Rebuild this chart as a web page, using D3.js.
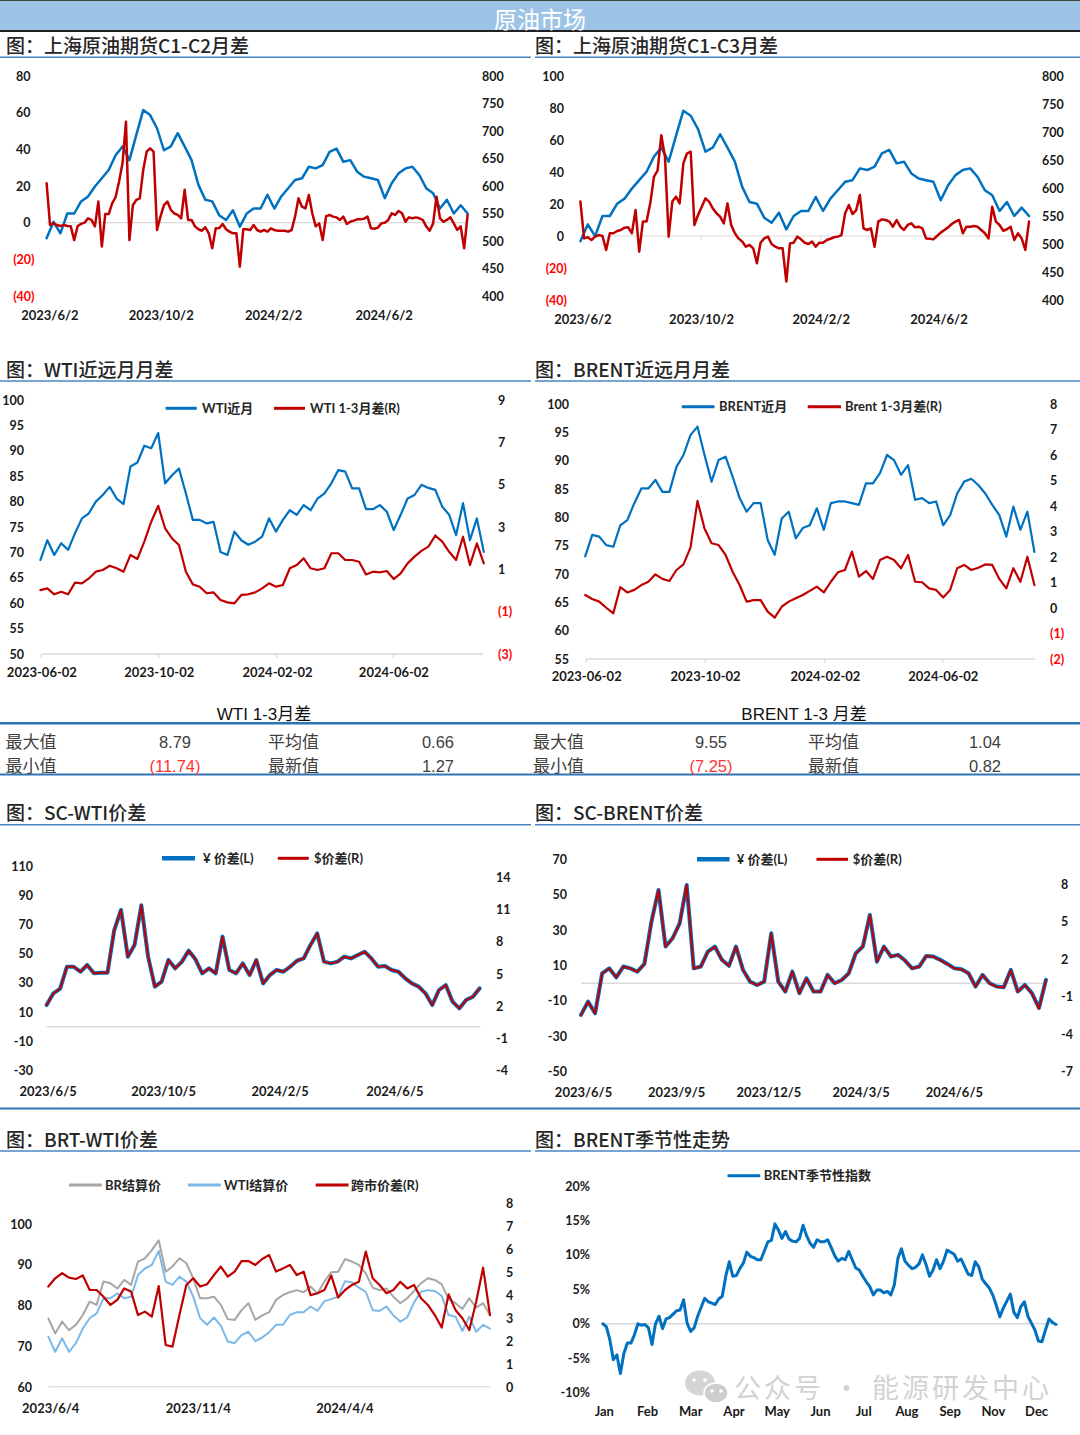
<!DOCTYPE html>
<html><head><meta charset="utf-8">
<script src="https://cdn.jsdelivr.net/npm/d3@7"></script>
<style>
body{margin:0;background:#fff;}
svg{display:block;}
</style></head><body>
<svg id="c" width="1080" height="1435"></svg>
<script>
// ---------------- DATA ----------------
// SC main contract price (yuan/bbl), used in C1-C2 and C1-C3 charts (right axis)
const scPrice = [505,535,514,550,550,572,581,599,614,629,656,672,647,693,738,729,705,665,672,696,672,647,602,575,572,547,538,556,526,550,559,559,584,559,581,596,611,614,635,632,638,662,668,644,647,626,617,614,611,578,605,623,632,635,620,596,587,559,575,550,565,550];
// SC C1-C2 spread
const scC1C2 = [21.5,-1.3,-0.4,-1.3,-1.8,-1.3,-1.8,-2,-9.5,-1.8,
 -0.7,0,2.4,1.5,-2,11.5,-13,4.7,4.7,10.5,
 14,22.4,32.4,55,-9.5,9.5,12.4,13.3,28.7,38.7,
 40.5,38.7,-4,3.3,9.6,11.5,7,5,4.2,2.4,
 18,1.5,1.5,-2,-3.6,-4.4,-2.5,-5.8,-14,-3.1,
 -3.1,-0.7,-3.6,-4.9,-5.8,-5.8,-24,-3.6,-3.6,-4,
 -1.3,-4,-4.9,-4,-4.9,-3.1,-4,-4.4,-4.4,-4.4,
 -4.9,-4,3.3,13.3,8.7,7.8,15.1,5,-2,-0.4,
 -9.5,3.6,4.2,3.3,2.9,1.5,3.3,-0.7,0.5,1.1,
 1.8,1.8,2.2,3.3,-3.1,-3.3,-2.7,-0.4,0,1.5,
 5.1,4.2,6.4,5.1,0.5,2.9,2.4,2.9,2.4,1.5,
 -2,-4.4,-0.4,14.2,2.4,0.5,1.5,2.9,-0.4,-4,
 -2,-14,4.2];
// SC C1-C3 spread
const scC1C3 = [21.5,-1.5,-0.8,-2.5,-0.4,0.6,0,-8.7,1.7,1.7,
 3.1,3.75,5.2,5.4,1.7,16.2,-9.8,9,9,20.4,
 37,41,63,49.6,-0.4,21.5,24.6,20.4,45.4,51.7,
 52.7,6.9,13.1,18.3,23.5,21.5,17.3,14.2,12.1,7.9,
 20.4,6.9,1.7,-1.5,-3.5,-6.7,-5.6,-7.7,-17,-4.2,
 -1.5,-0.4,-5,-6.7,-7.7,-7.7,-28.5,-4.6,-4.2,-0.4,
 -2.1,-4.2,-5,-3.5,-6.7,-4.2,-4.2,-2.5,-1.7,-0.8,
 -0.4,0.6,14.2,19.4,13.7,16.2,25.6,4.8,3.75,4.8,
 -6.7,9,10.4,10,9,5.8,10,5.8,3.75,6.9,
 7.9,5.4,5.8,4.8,-1.5,-1.7,-2.1,0,2.1,3.75,
 5.4,7.5,9,10,1.7,5.8,5.8,6.25,5.8,3.75,
 1.7,-1.5,18.3,9,6.9,3.3,4.2,5.8,-2.5,1.7,
 -1.5,-8.7,9];
// WTI front month and WTI 1-3 spread
const wtiFront = [68.5,72.4,69.5,71.8,70.5,73.8,76.7,77.7,80,81.3,82.9,80.6,79.5,86.9,87.7,91,90.5,93.5,83.6,85.2,86.5,81.6,76.4,76.4,75.7,76,70.1,69.5,74.1,72.4,71.5,72.1,73.1,76.7,74.1,76.4,78.3,77.4,79.3,78.3,80.6,81.6,83.6,86.2,85.9,82.6,82.6,78.5,78.5,79.3,78,74.4,77.4,80.6,81.3,83.3,82.7,82.3,79,77.4,73.4,79.7,72.4,76.7,70.1];
const wtiSpread = [0.02,0.1,-0.18,-0.06,-0.18,0.37,0.34,0.57,0.89,0.97,1.17,1.05,0.89,1.68,1.49,2.31,3.25,4.0,2.94,2.46,2.15,0.89,0.29,0.18,-0.13,-0.09,-0.45,-0.56,-0.61,-0.21,-0.18,-0.09,0.1,0.34,0.18,0.26,1.05,1.2,1.52,1.05,0.97,1.05,1.76,1.76,1.44,1.44,1.36,0.76,0.89,0.86,0.92,0.54,0.81,1.28,1.6,1.87,2.07,2.6,2.31,1.83,1.44,2.54,1.2,2.23,1.28];
// Brent front month and Brent 1-3 spread
const brentFront = [73.1,76.9,76.6,75.1,74.8,78.6,79.5,82.5,85.1,85.1,86.6,84.5,84.5,88.9,91,94.5,96,91,86.3,90.1,90.7,87.2,83.4,81,82.5,82.5,76,73.4,79.8,81,76.3,78.1,78.6,81.6,77.8,82.5,82.8,82.8,82.5,82.2,86,86,87.8,91,90.1,87.5,89.2,83.1,83.4,82.5,82.8,78.6,80.4,84.2,86.3,86.8,85.7,84.2,82.2,80.4,76.6,81.9,77.8,81,73.9];
const brentSpread = [0.51,0.35,0.25,0.01,-0.21,0.82,0.61,0.71,0.9,1.03,1.32,1.14,1.06,1.49,1.71,2.37,4.2,3.12,2.54,2.47,2.08,1.42,0.9,0.25,0.31,0.31,-0.14,-0.38,0.05,0.25,0.38,0.51,0.67,0.84,0.61,1.03,1.4,1.49,2.21,1.23,1.45,1.14,1.88,2.01,1.88,1.56,2.08,1.03,1.01,0.77,0.71,0.41,0.71,1.56,1.69,1.49,1.58,1.71,1.69,1.14,0.77,1.56,1.03,2.01,0.9];
// Table statistics
const statNames = [["最大值","平均值"],["最小值","最新值"]];
const wtiStats = [[8.79,0.66],[-11.74,1.27]];
const brentStats = [[9.55,1.04],[-7.25,0.82]];
// SC-WTI spread (CNY left, USD right)
const scWtiCny = [14.9,22.9,26.1,41.1,41.1,37.7,42.3,36.6,37,37,66.2,79.9,48,56,83.1,48,27.5,30.9,45.7,40,44.6,52.1,46.2,36.6,40,36.6,61.7,38.9,36.6,43.4,35.4,45.7,29.7,35.4,38.9,37.7,41.1,45.2,46.8,56,63.9,44.6,43.4,44.6,48,46.8,49.1,51.4,46.8,41.1,41.6,38.9,37.7,33.2,29.7,27.5,22.9,14.9,25.2,28.6,17.2,12.6,18.3,20.6,26.3];
const scWtiUsd = [2.11,3.19,3.63,5.68,5.68,5.21,5.83,5.06,5.12,5.12,9.09,10.96,6.61,7.7,11.39,6.61,3.81,4.28,6.3,5.52,6.14,7.17,6.36,5.06,5.52,5.06,8.47,5.37,5.06,5.99,4.9,6.3,4.12,4.9,5.37,5.21,5.68,6.24,6.45,7.7,8.78,6.14,5.99,6.14,6.61,6.45,6.76,7.07,6.45,5.68,5.74,5.37,5.21,4.59,4.12,3.81,3.19,2.11,3.5,3.97,2.42,1.8,2.57,2.88,3.66];
// SC-Brent spread
const scBrentCny = [-17.9,-10.4,-17,5.6,8.4,3.3,9.4,8.4,6.5,10.9,34.8,52.7,20.7,25.4,33.8,55.5,8.4,9.4,17.8,20.7,13.2,9.8,20.7,7.5,0.9,-1,0.9,28.2,0.9,-4.7,6.6,-5.6,2.8,-4.7,-4.7,4.7,0,1.8,5.6,16.9,20.7,38.5,12.1,20.7,15.1,16,12.8,8.4,9.4,15.4,15.1,13.2,10.9,8.4,7.9,5.6,-1.9,4.7,0,-1.9,-2.3,7.5,-4.7,-1,-5.6,-14,1.9];
const scBrentUsd = [-2.48,-1.41,-2.35,0.85,1.25,0.53,1.39,1.25,0.99,1.6,4.99,7.52,2.99,3.65,4.85,7.92,1.25,1.39,2.59,2.99,1.92,1.44,2.99,1.12,0.19,-0.08,0.19,4.05,0.19,-0.61,0.99,-0.75,0.45,-0.61,-0.61,0.72,0.05,0.32,0.85,2.45,2.99,5.52,1.79,2.99,2.19,2.32,1.87,1.25,1.39,2.24,2.19,1.92,1.6,1.25,1.17,0.85,-0.21,0.72,0.05,-0.21,-0.27,1.12,-0.61,-0.08,-0.75,-1.95,0.32];
// BRT-WTI
const brSettle = [76.9,73.2,76.1,74,75.3,77.7,81,80.2,85.9,85.5,84.2,86.3,85.1,90.8,91.6,93.6,96,88.3,89.6,91.6,90.4,86.7,81.8,81.8,82.2,80.2,76.7,76.5,78.9,80.6,76.5,77.6,78.4,81.4,82.6,83.3,83.8,83.3,84.7,83,85.9,88.2,88.3,91.4,90.8,90,87.9,84.4,83.8,84.2,82.2,80.6,81.8,83.6,85.5,86.7,86.3,85.2,81.6,80.6,79.2,81.8,79.5,80.6,77.7];
const wtiSettle = [72.4,68.7,72,68.7,70.8,74.4,76.9,78.1,81.8,81.8,83,81.8,82.2,87.5,89.1,90,93.4,85.9,85.1,87.1,85.9,82.2,76.9,75.3,77.1,75.1,71.2,70.8,72.8,73.6,71.3,72.2,73.5,75.3,75.3,77.7,78.4,78.4,79.8,78.7,81.1,81.6,82.2,86,85.7,84.4,83.4,78.9,78.7,79.8,77.6,76.1,77.1,80.8,83.4,83.8,83.6,82.4,77.7,77.3,73.8,77.3,73.6,75.3,74.4];
const brtWtiSpread = [4.38,4.74,4.96,4.77,4.71,4.86,4.23,4.23,3.94,3.58,3.8,4.3,4.16,3.14,3.29,3.07,4.4,1.84,1.77,3.14,4.45,4.74,4.38,4.48,4.88,5.25,4.81,5.03,5.49,5.49,5.32,5.58,5.75,5.03,5.17,5.32,4.88,5.03,4.01,4.09,4.23,4.86,3.9,4.23,4.45,4.59,5.9,4.74,4.45,4.09,4.23,4.59,4.3,4.45,3.87,3.58,3.14,2.6,4.04,3.36,3.0,2.49,3.72,5.2,3.14];
// Brent seasonal index (%)
const brentSeasonal = [0,-0.4,-2.3,-5.2,-4.5,-7.2,-4.3,-2.8,-2.8,-1.6,
 0,-0.2,-0.1,-0.6,-3,0,1.1,-0.7,0.7,0.9,
 1.4,1.9,2,3.5,0.1,-1.1,-0.6,1.1,2.4,3.7,
 3.2,3,2.8,3.6,4,6.9,9,6.9,7,8,
 8.8,10.4,9.8,9.6,9.3,9.3,10.6,11.9,12.1,14.5,
 13.6,12.4,13.4,12.3,12,11.9,12.4,14.3,12.8,11.7,
 11.1,12.2,11.9,11.9,12.2,11.1,9.9,9.1,9.5,9.3,
 10.5,9.3,8.1,7.8,6.9,6.1,5.4,4.2,4.9,4.9,
 4.5,4.7,4.2,5.7,9.5,10.9,9.1,8.5,8,8.2,
 8.7,10,8.6,6.9,7.8,9.3,8,9.1,10.7,10.4,
 10.1,9.1,9.4,8.3,7.2,7,9,8.3,6.5,5.8,
 5.2,4.2,2.7,1,2.3,3.3,4.3,1.7,0.9,2.5,
 3.2,1.1,0.1,-0.9,-2.5,-2.6,-0.9,0.7,0.2,-0.1];
const seasonMonths = ["Jan","Feb","Mar","Apr","May","Jun","Jul","Aug","Sep","Nov","Dec"];

// ---------------- DRAWING ----------------
const svg = d3.select("#c");
const BLUE="#0070c0", RED="#c00000", SECT="#2e75b6";
const LAT="Lato,'Noto Sans CJK SC',sans-serif";
const CJK="'Noto Sans CJK SC',sans-serif";
const parse = d3.timeParse("%Y-%m-%d");

function timed(values, start, end){
  const s=parse(start).getTime(), e=parse(end).getTime(), n=values.length;
  return values.map((v,i)=>({t:new Date(s+(e-s)*i/(n-1)), v}));
}
function hline(x1,x2,y,color,w){
  svg.append("line").attr("x1",x1).attr("x2",x2).attr("y1",y).attr("y2",y).attr("stroke",color).attr("stroke-width",w);
}
function title(x,y,t){
  svg.append("text").attr("x",x).attr("y",y).attr("font-family",CJK).attr("font-size",19).attr("font-weight",500).attr("fill","#262626").text(t);
}
function clean(gg,size){
  gg.select(".domain").remove();
  gg.selectAll(".tick line").remove();
  gg.attr("font-family",null).attr("font-size",null);
  gg.selectAll("text").attr("font-family",LAT).attr("font-size",size).attr("font-weight",700).attr("fill","#1a1a1a");
}
const paren = d => d<0 ? `(${Math.abs(d)})` : `${d}`;
function yAxisL(scale,x,ticks,fmt,opts={}){
  const gg=svg.append("g").attr("transform",`translate(${x},0)`)
    .call(d3.axisLeft(scale).tickValues(ticks).tickFormat(fmt).tickSize(0).tickPadding(0));
  clean(gg,12.5);
  if(opts.paren){ gg.selectAll("text").attr("dx",d=>d<0?0:-opts.shift).attr("fill",d=>d<0?"#ff0000":"#1a1a1a"); }
  return gg;
}
function yAxisR(scale,x,ticks,fmt,opts={}){
  const gg=svg.append("g").attr("transform",`translate(${x},0)`)
    .call(d3.axisRight(scale).tickValues(ticks).tickFormat(fmt).tickSize(0).tickPadding(0));
  clean(gg,12.5);
  if(opts.paren){ gg.selectAll("text").attr("fill",d=>d<0?"#ff0000":"#1a1a1a"); }
  return gg;
}
function xAxis(scale,y,ticks,fmt){
  const gg=svg.append("g").attr("transform",`translate(0,${y})`)
    .call(d3.axisBottom(scale).tickValues(ticks).tickFormat(fmt).tickSize(0).tickPadding(0));
  clean(gg,13);
  gg.selectAll("text").attr("y",0).attr("dy","0.35em");
  return gg;
}
function series(data,x,y,color,w){
  svg.append("path").datum(data).attr("fill","none").attr("stroke",color).attr("stroke-width",w)
    .attr("stroke-linejoin","round").attr("stroke-linecap","round")
    .attr("d",d3.line().x(d=>x(d.t)).y(d=>y(d.v)));
}
function legend(y,items){
  items.forEach(it=>{
    svg.append("line").attr("x1",it.x1).attr("x2",it.x2).attr("y1",y).attr("y2",y).attr("stroke",it.c).attr("stroke-width",it.w||3);
    svg.append("text").attr("x",it.tx).attr("y",y).attr("dy","0.36em").attr("font-family",LAT).attr("font-size",13).attr("font-weight",700).attr("fill","#262626").text(it.label);
  });
}
const fmtSlash = d3.timeFormat("%Y/%-m/%-d");
const fmtDash = d3.timeFormat("%Y-%m-%d");
const dates = arr => arr.map(parse);

// Header
svg.append("rect").attr("x",0).attr("y",1).attr("width",1080).attr("height",29).attr("fill","#9dc3e6");
hline(0,1080,0.5,"#404040",1);
hline(0,1080,31,"#1f1f1f",2);
svg.append("text").attr("x",540).attr("y",27.5).attr("text-anchor","middle").attr("font-family",CJK).attr("font-size",23).attr("fill","#fff").text("原油市场");

// Section titles
title(6,53,"图：上海原油期货C1-C2月差"); title(535,53,"图：上海原油期货C1-C3月差");
hline(0,531,57.3,"#4a86c5",1.5); hline(535,1080,57.3,"#4a86c5",1.5);
title(6,377,"图：WTI近远月月差"); title(535,377,"图：BRENT近远月月差");
hline(0,531,381,"#4a86c5",1.5); hline(535,1080,381,"#4a86c5",1.5);
title(6,820,"图：SC-WTI价差"); title(535,820,"图：SC-BRENT价差");
hline(0,531,824.7,"#4a86c5",1.5); hline(535,1080,824.7,"#4a86c5",1.5);
title(6,1147,"图：BRT-WTI价差"); title(535,1147,"图：BRENT季节性走势");
hline(0,531,1151,"#4a86c5",1.5); hline(535,1080,1151,"#4a86c5",1.5);
hline(0,1080,1108.5,SECT,2);

// ---- P1: C1-C2
{
  const x=d3.scaleTime().domain([parse("2023-05-30"),parse("2024-09-02")]).range([46.6,467.6]);
  const yL=d3.scaleLinear().domain([-40,80]).range([296,76]);
  const yR=d3.scaleLinear().domain([400,800]).range([296,76]);
  hline(46.6,467.6,yL(0),"#d9d9d9",1.2);
  yAxisL(yL,34.5,d3.range(-40,81,20),paren,{paren:true,shift:4});
  yAxisR(yR,482,d3.range(400,801,50),d=>d);
  xAxis(x,315,dates(["2023-06-02","2023-10-02","2024-02-02","2024-06-02"]),fmtSlash);
  series(timed(scPrice,"2023-05-30","2024-09-02"),x,yR,BLUE,2.5);
  series(timed(scC1C2,"2023-05-30","2024-09-02"),x,yL,RED,2.5);
}
// ---- P2: C1-C3
{
  const x=d3.scaleTime().domain([parse("2023-05-31"),parse("2024-09-03")]).range([580.4,1029]);
  const yL=d3.scaleLinear().domain([-40,100]).range([300,76]);
  const yR=d3.scaleLinear().domain([400,800]).range([300,76]);
  hline(580.4,1029,yL(0),"#d9d9d9",1.2);
  dates(["2023-10-02","2024-02-02"]).forEach(d=>svg.append("line").attr("x1",x(d)).attr("x2",x(d)).attr("y1",yL(0)).attr("y2",yL(0)+4).attr("stroke","#d9d9d9"));
  yAxisL(yL,567,d3.range(-40,101,20),paren,{paren:true,shift:3});
  yAxisR(yR,1042,d3.range(400,801,50),d=>d);
  xAxis(x,319,dates(["2023-06-02","2023-10-02","2024-02-02","2024-06-02"]),fmtSlash);
  series(timed(scPrice,"2023-05-31","2024-09-03"),x,yR,BLUE,2.5);
  series(timed(scC1C3,"2023-05-31","2024-09-03"),x,yL,RED,2.5);
}
// ---- P3: WTI
{
  const x=d3.scaleTime().domain([parse("2023-06-01"),parse("2024-09-04")]).range([40.4,483.8]);
  const yL=d3.scaleLinear().domain([50,100]).range([654,400]);
  const yR=d3.scaleLinear().domain([-3,9]).range([654,400]);
  const tk=dates(["2023-06-02","2023-10-02","2024-02-02","2024-06-02"]);
  hline(41.4,483.1,654,"#d9d9d9",1.5);
  tk.forEach(d=>svg.append("line").attr("x1",x(d)).attr("x2",x(d)).attr("y1",654).attr("y2",658).attr("stroke","#d9d9d9").attr("stroke-width",1.2));
  yAxisL(yL,24,d3.range(50,101,5),d=>d);
  yAxisR(yR,498,[-3,-1,1,3,5,7,9],paren,{paren:true});
  xAxis(x,672.3,tk,fmtDash);
  series(timed(wtiFront,"2023-06-01","2024-09-04"),x,yL,BLUE,2.2);
  series(timed(wtiSpread,"2023-06-01","2024-09-04"),x,yR,RED,2.2);
  legend(408.3,[{x1:165.6,x2:196.7,tx:202,c:BLUE,label:"WTI近月"},{x1:274,x2:305,tx:310,c:RED,label:"WTI 1-3月差(R)"}]);
}
// ---- P4: Brent
{
  const x=d3.scaleTime().domain([parse("2023-06-01"),parse("2024-09-04")]).range([585.2,1034.4]);
  const yL=d3.scaleLinear().domain([55,100]).range([659,404]);
  const yR=d3.scaleLinear().domain([-2,8]).range([659,404]);
  const tk=dates(["2023-06-02","2023-10-02","2024-02-02","2024-06-02"]);
  hline(586,1035,659,"#d9d9d9",1.5);
  tk.forEach(d=>svg.append("line").attr("x1",x(d)).attr("x2",x(d)).attr("y1",659).attr("y2",663).attr("stroke","#d9d9d9").attr("stroke-width",1.2));
  yAxisL(yL,569,d3.range(55,101,5),d=>d);
  yAxisR(yR,1050,d3.range(-2,9,1),paren,{paren:true});
  xAxis(x,676.7,tk,fmtDash);
  series(timed(brentFront,"2023-06-01","2024-09-04"),x,yL,BLUE,2.2);
  series(timed(brentSpread,"2023-06-01","2024-09-04"),x,yR,RED,2.2);
  legend(406.7,[{x1:681.8,x2:714.5,tx:719,c:BLUE,label:"BRENT近月"},{x1:807.7,x2:841,tx:845,c:RED,label:"Brent 1-3月差(R)"}]);
}
// ---- Table
{
  const TF="'Liberation Sans Narrow','Liberation Sans','Noto Sans CJK SC',sans-serif";
  svg.append("text").attr("x",264).attr("y",720).attr("text-anchor","middle").attr("font-family",TF).attr("font-size",17).attr("fill","#111").text("WTI 1-3月差");
  svg.append("text").attr("x",804).attr("y",720).attr("text-anchor","middle").attr("font-family",TF).attr("font-size",17).attr("fill","#111").text("BRENT 1-3 月差");
  hline(0,1080,723.3,SECT,2.5);
  hline(0,1080,774.5,SECT,2);
  const rowsY=[748,772];
  const groups=[{stats:wtiStats,nameX:[5.5,268],valX:[175,438]},{stats:brentStats,nameX:[533,808],valX:[711,985]}];
  groups.forEach(gp=>{
    rowsY.forEach((y,r)=>{
      [0,1].forEach(c=>{
        svg.append("text").attr("x",gp.nameX[c]).attr("y",y).attr("font-family",CJK).attr("font-size",17).attr("fill","#404040").text(statNames[r][c]);
        const v=gp.stats[r][c];
        svg.append("text").attr("x",gp.valX[c]).attr("y",y).attr("text-anchor","middle").attr("font-family",TF).attr("font-size",16.5)
          .attr("fill",v<0?"#ff3333":"#404040").text(v<0?`(${Math.abs(v).toFixed(2)})`:v.toFixed(2));
      });
    });
  });
}
// ---- P5: SC-WTI
{
  const x=d3.scaleTime().domain([parse("2023-06-04"),parse("2024-09-03")]).range([46.6,479.6]);
  const yL=d3.scaleLinear().domain([-30,110]).range([1070.7,866]);
  const yR=d3.scaleLinear().domain([-4,14]).range([1070.7,877.3]);
  hline(46.6,480.3,yL(0),"#d9d9d9",1.5);
  yAxisL(yL,33,d3.range(-30,111,20),d=>d);
  yAxisR(yR,496,d3.range(-4,15,3),d=>d);
  xAxis(x,1091.7,dates(["2023-06-05","2023-10-05","2024-02-05","2024-06-05"]),fmtSlash);
  series(timed(scWtiCny,"2023-06-04","2024-09-03"),x,yL,BLUE,4);
  series(timed(scWtiUsd,"2023-06-04","2024-09-03"),x,yR,RED,2);
  legend(858.3,[{x1:162,x2:195,tx:203,c:BLUE,w:4.5,label:"¥ 价差(L)"},{x1:277.8,x2:308.8,tx:314,c:RED,label:"$价差(R)"}]);
}
// ---- P6: SC-Brent
{
  const x=d3.scaleTime().domain([parse("2023-06-03"),parse("2024-09-04")]).range([581,1046]);
  const yL=d3.scaleLinear().domain([-50,70]).range([1071.7,859.3]);
  const yR=d3.scaleLinear().domain([-7,8]).range([1071.7,884]);
  hline(581,1046,yL(0),"#d9d9d9",1.5);
  yAxisL(yL,567,d3.range(-50,71,20),d=>d);
  yAxisR(yR,1061,d3.range(-7,9,3),d=>d);
  xAxis(x,1092.7,dates(["2023-06-05","2023-09-05","2023-12-05","2024-03-05","2024-06-05"]),fmtSlash);
  series(timed(scBrentCny,"2023-06-03","2024-09-04"),x,yL,BLUE,4);
  series(timed(scBrentUsd,"2023-06-03","2024-09-04"),x,yR,RED,2);
  legend(859.3,[{x1:697,x2:729.6,tx:736.7,c:BLUE,w:4.5,label:"¥ 价差(L)"},{x1:816.5,x2:848,tx:852.7,c:RED,label:"$价差(R)"}]);
}
// ---- P7: BRT-WTI
{
  const x=d3.scaleTime().domain([parse("2023-06-02"),parse("2024-09-02")]).range([48.3,490]);
  const yL=d3.scaleLinear().domain([60,100]).range([1387.3,1224]);
  const yR=d3.scaleLinear().domain([0,8]).range([1387.3,1203.3]);
  hline(48.3,490,1386.7,"#e3e3e3",1.5);
  yAxisL(yL,32,d3.range(60,101,10),d=>d);
  yAxisR(yR,506,d3.range(0,9,1),d=>d);
  xAxis(x,1408.3,dates(["2023-06-04","2023-11-04","2024-04-04"]),fmtSlash);
  series(timed(brSettle,"2023-06-02","2024-09-02"),x,yL,"#a6a6a6",2);
  series(timed(wtiSettle,"2023-06-02","2024-09-02"),x,yL,"#7cb9e8",2);
  series(timed(brtWtiSpread,"2023-06-02","2024-09-02"),x,yR,RED,2.2);
  legend(1185,[{x1:69,x2:101.8,tx:105,c:"#a6a6a6",label:"BR结算价"},{x1:188,x2:220.8,tx:224,c:"#7cb9e8",label:"WTI结算价"},{x1:315.7,x2:348.5,tx:351,c:RED,label:"跨市价差(R)"}]);
}
// ---- P8: Brent seasonal
{
  const x=d3.scaleLinear().domain([0,brentSeasonal.length-1]).range([602.8,1056]);
  const y=d3.scaleLinear().domain([-10,20]).range([1392.7,1186]);
  const xm=d3.scalePoint().domain(seasonMonths).range([603.8,1036.1]);
  hline(602.8,1056,y(0),"#d9d9d9",1.5);
  yAxisL(y,590,d3.range(-10,21,5),d=>d+"%");
  xAxis(xm,1411.7,seasonMonths,d=>d);
  // watermark
  const wm=svg.append("g").attr("opacity",0.75);
  wm.append("ellipse").attr("cx",700).attr("cy",1383).attr("rx",15).attr("ry",12.5).attr("fill","#c8c8c8");
  wm.append("ellipse").attr("cx",716).attr("cy",1393).attr("rx",12).attr("ry",10).attr("fill","#bdbdbd").attr("stroke","#fff").attr("stroke-width",1.5);
  [[694,1380],[705,1380],[712,1391],[721,1391]].forEach(p=>wm.append("circle").attr("cx",p[0]).attr("cy",p[1]).attr("r",1.8).attr("fill","#fff"));
  wm.append("text").attr("x",734).attr("y",1398).attr("font-family",CJK).attr("font-size",27).attr("letter-spacing",3).attr("fill","#c4c4c4").text("公众号 · 能源研发中心");
  series(brentSeasonal.map((v,i)=>({t:i,v})),x,y,BLUE,3);
  legend(1175.7,[{x1:727.5,x2:760.2,tx:763.7,c:BLUE,label:"BRENT季节性指数"}]);
}
</script>
</body></html>
